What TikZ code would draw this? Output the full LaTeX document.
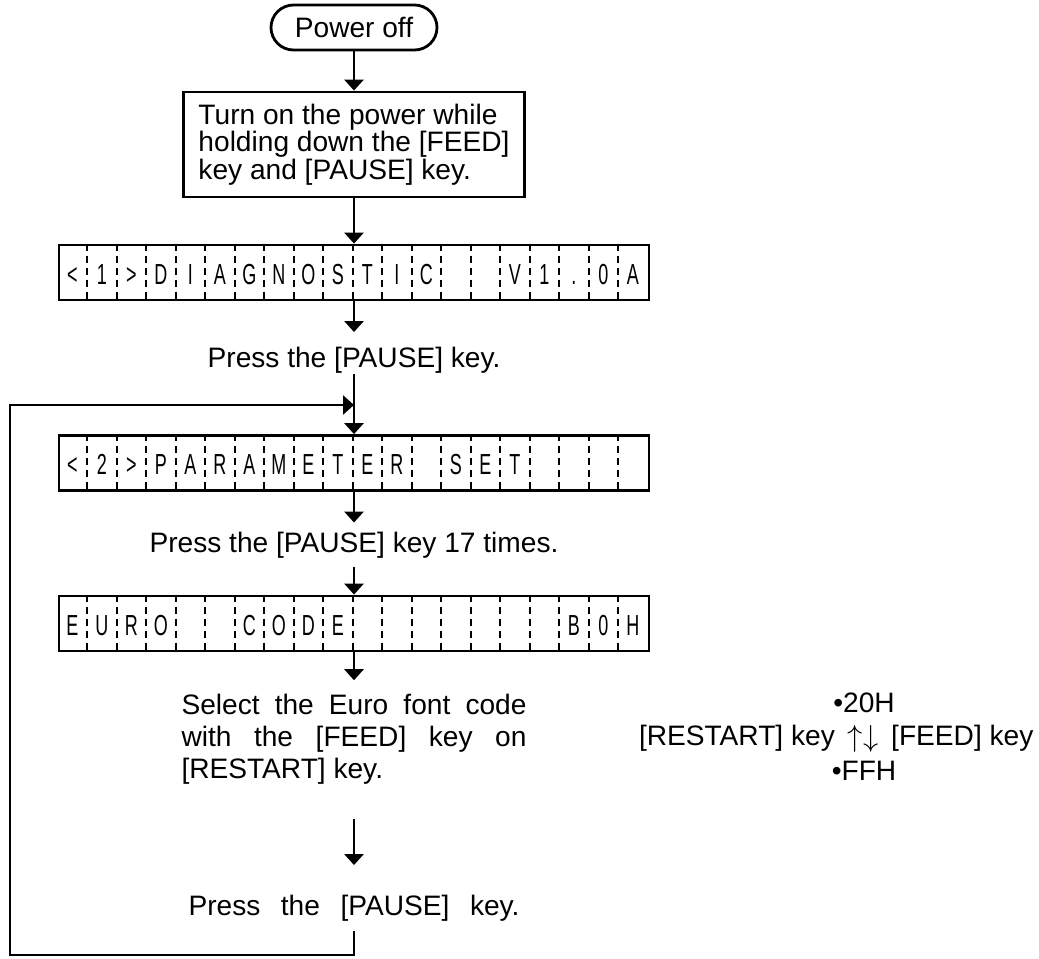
\documentclass[tikz,border=0pt]{standalone}
\usepackage{fontspec}
\setmainfont{Liberation Sans}
\newfontfamily\lcdfont[FakeStretch=0.62]{Liberation Sans}
\usetikzlibrary{arrows.meta,positioning,calc}
\tikzset{
  >={Triangle[length=2.2mm,width=3.8mm]},
  every picture/.append style={font=\fontsize{16}{15.6}\selectfont},
  flow/.style={->,line width=1.6pt},
  startbox/.style={rectangle,rounded corners=4.5mm,draw,line width=1.6pt,minimum width=3.32cm,minimum height=9mm,inner sep=0pt},
  textbox/.style={rectangle,draw,line width=1.6pt,align=left,inner sep=2mm,minimum width=6.82cm,minimum height=2.1cm},
  lcd/.style={rectangle,draw,line width=1.6pt,minimum width=11.8cm,minimum height=1.1cm,inner sep=0pt},
  celldiv/.style={line width=1.1pt,dash pattern=on 1.4mm off 1mm},
  lcdchar/.style={font=\lcdfont\fontsize{16.5}{16.5}\selectfont,inner sep=0pt,text height=11.8pt,text depth=0pt},
  steplabel/.style={inner sep=0pt},
  keylabel/.style={inner xsep=2pt,inner ysep=0pt},
}

\begin{document}
\begin{tikzpicture}[x=1cm,y=1cm]
  \useasboundingbox (0,0) rectangle (20.78,-19.16);

  \node[startbox] (pwr) at (7.08,-0.55) {Power off};
  \node[textbox] (turnOn) at (7.08,-2.89) {Turn on the power while\\holding down the [FEED]\\key and [PAUSE] key.};
  \node[lcd] (lcdA) at (7.08,-5.45) {};
  \node[steplabel] (pressA) at (7.08,-7.21) {Press the [PAUSE] key.};
  \node[lcd] (lcdB) at (7.08,-9.26) {};
  \node[steplabel] (pressB) at (7.08,-10.91) {Press the [PAUSE] key 17 times.};
  \node[lcd] (lcdC) at (7.08,-12.47) {};
  \node[steplabel, text width=6.9cm, align=justify, font=\fontsize{16}{18.1}\selectfont] (selCode) at (7.08,-14.78) {Select the Euro font code with the [FEED] key on [RESTART] key.};
  \node[steplabel] (pressC) at (7.08,-18.16) {\makebox[6.62cm][s]{Press the [PAUSE] key.}};

  \foreach \ch [count=\i] in {<,1,>,D,I,A,G,N,O,S,T,I,C,{},{},V,1,.,0,A}
    \node[lcdchar] at ($(lcdA.west)+(\i*0.59-0.295,-0.03)$) {\ch};
  \foreach \ch [count=\i] in {<,2,>,P,A,R,A,M,E,T,E,R,{},S,E,T,{},{},{},{}}
    \node[lcdchar] at ($(lcdB.west)+(\i*0.59-0.295,-0.03)$) {\ch};
  \foreach \ch [count=\i] in {E,U,R,O,{},{},C,O,D,E,{},{},{},{},{},{},{},B,0,H}
    \node[lcdchar] at ($(lcdC.west)+(\i*0.59-0.295,-0.03)$) {\ch};
  \foreach \d in {lcdA,lcdB,lcdC} {%
    \foreach \i in {1,...,19}
      \draw[celldiv] ($(\d.north west)+(\i*0.59,0)$) -- ($(\d.south west)+(\i*0.59,0)$);
  }

  \node[keylabel] (codeArr) at (17.26,-14.77) {$\uparrow\downarrow$};
  \node[keylabel, anchor=east] (keyRst) at ([xshift=-3pt]codeArr.west) {[RESTART] key};
  \node[keylabel, anchor=west] (keyFeed) at ([xshift=3pt]codeArr.east) {[FEED] key};
  \node[keylabel] (codeHi) at (17.28,-14.06) {•20H};
  \node[keylabel] (codeLo) at (17.28,-15.42) {•FFH};

  \draw[flow] (pwr) -- (turnOn);
  \draw[flow] (turnOn) -- (lcdA);
  \draw[flow, shorten >=3mm] (lcdA) -- (pressA);
  \draw[flow] (pressA) -- (lcdB);
  \draw[flow, shorten >=1.9mm] (lcdB) -- (pressB);
  \draw[flow, shorten <=1.6mm] (pressB) -- (lcdC);
  \draw[flow, shorten >=2.7mm] (lcdC) -- (selCode);
  \draw[flow, shorten <=7mm, shorten >=5.9mm] (selCode) -- (pressC);

  \coordinate (loopBot) at (7.08,-19.1);
  \coordinate (loopCorner) at (0.2,-8.1);
  \coordinate (loopIn) at (7.08,-8.1);
  \draw[flow, shorten <=2mm] (pressC) -- (loopBot) -| (loopCorner) -- (loopIn);
\end{tikzpicture}
\end{document}
